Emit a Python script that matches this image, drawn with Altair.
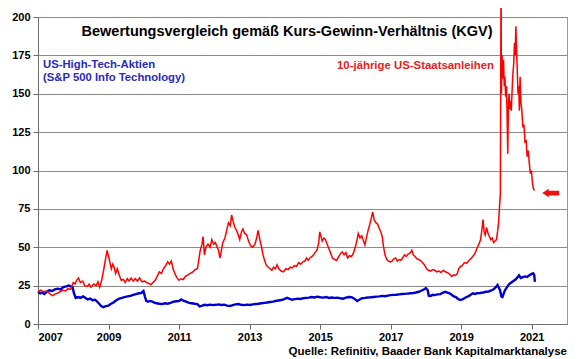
import altair as alt
import pandas as pd

# ---------------- data ----------------
red_years = [
    2007.00, 2007.08, 2007.15, 2007.25, 2007.35, 2007.42, 2007.48, 2007.55, 2007.62, 2007.70,
    2007.78, 2007.85, 2007.93, 2008.00, 2008.05, 2008.10, 2008.15, 2008.20, 2008.27, 2008.32,
    2008.40, 2008.45, 2008.50, 2008.58, 2008.65, 2008.70, 2008.75, 2008.80, 2008.86, 2008.92,
    2008.96, 2009.00, 2009.04, 2009.08, 2009.12, 2009.16, 2009.20, 2009.25, 2009.30, 2009.36,
    2009.42, 2009.47, 2009.53, 2009.58, 2009.64, 2009.70, 2009.76, 2009.82, 2009.88, 2009.95,
    2010.02, 2010.08, 2010.14, 2010.20, 2010.26, 2010.32, 2010.38, 2010.44, 2010.50, 2010.56,
    2010.62, 2010.68, 2010.73, 2010.78, 2010.83, 2010.88, 2010.94, 2011.00, 2011.06, 2011.12,
    2011.18, 2011.25, 2011.32, 2011.39, 2011.46, 2011.52, 2011.56, 2011.60, 2011.65, 2011.68,
    2011.72, 2011.76, 2011.82, 2011.88, 2011.93, 2011.98, 2012.03, 2012.08, 2012.12, 2012.16,
    2012.20, 2012.24, 2012.30, 2012.35, 2012.40, 2012.45, 2012.49, 2012.53, 2012.58, 2012.63,
    2012.68, 2012.72, 2012.77, 2012.81, 2012.86, 2012.92, 2012.97, 2013.03, 2013.09, 2013.15,
    2013.20, 2013.24, 2013.29, 2013.34, 2013.38, 2013.43, 2013.48, 2013.53, 2013.58, 2013.63,
    2013.68, 2013.73, 2013.78, 2013.83, 2013.89, 2013.96, 2014.03, 2014.09, 2014.15, 2014.21,
    2014.27, 2014.33, 2014.39, 2014.45, 2014.51, 2014.57, 2014.61, 2014.66, 2014.71, 2014.77,
    2014.81, 2014.87, 2014.91, 2014.96, 2014.99, 2015.06, 2015.11, 2015.15, 2015.20, 2015.25,
    2015.30, 2015.35, 2015.41, 2015.47, 2015.53, 2015.58, 2015.63, 2015.68, 2015.73, 2015.78,
    2015.83, 2015.89, 2015.94, 2015.99, 2016.04, 2016.08, 2016.13, 2016.18, 2016.23, 2016.27,
    2016.31, 2016.36, 2016.41, 2016.45, 2016.49, 2016.53, 2016.58, 2016.63, 2016.68, 2016.72,
    2016.76, 2016.80, 2016.84, 2016.89, 2016.94, 2016.99, 2017.04, 2017.09, 2017.14, 2017.19,
    2017.24, 2017.29, 2017.34, 2017.39, 2017.44, 2017.49, 2017.54, 2017.60, 2017.64, 2017.69,
    2017.74, 2017.79, 2017.84, 2017.90, 2017.96, 2018.02, 2018.07, 2018.13, 2018.19, 2018.25,
    2018.31, 2018.37, 2018.43, 2018.49, 2018.55, 2018.61, 2018.67, 2018.73, 2018.79, 2018.84,
    2018.89, 2018.93, 2018.98, 2019.03, 2019.09, 2019.15, 2019.21, 2019.27, 2019.33, 2019.39,
    2019.45, 2019.50, 2019.55, 2019.59, 2019.62, 2019.65, 2019.68, 2019.72, 2019.76, 2019.80,
    2019.84, 2019.88, 2019.92, 2019.96, 2020.00, 2020.03, 2020.06, 2020.08, 2020.11, 2020.13,
    2020.14, 2020.16, 2020.18, 2020.20, 2020.22, 2020.24, 2020.26, 2020.28, 2020.30, 2020.32,
    2020.34, 2020.36, 2020.38, 2020.40, 2020.42, 2020.44, 2020.46, 2020.49, 2020.51, 2020.53,
    2020.55, 2020.57, 2020.59, 2020.61, 2020.63, 2020.65, 2020.67, 2020.69, 2020.72, 2020.75,
    2020.78, 2020.81, 2020.84, 2020.87, 2020.90, 2020.93, 2020.96, 2020.99, 2021.02, 2021.05,
    2021.08,
]
red_vals = [
    21, 22, 21, 21.5, 19.5, 18.5, 19.5, 20, 21, 22,
    21.5, 23, 22.5, 27, 26, 28.5, 30, 27, 28, 25,
    24.5, 26, 24, 26, 25, 27.5, 24, 28, 35, 43,
    48, 44, 40, 36, 39, 37, 33, 36, 32, 28.5,
    29, 27, 29.5, 28, 30, 28, 29.5, 28, 30, 27.5,
    28, 27, 26.5, 25.5, 27, 28.5, 31, 34, 33, 36,
    38, 40.5, 39, 41, 36, 33, 30, 28.5, 29.5, 29,
    31, 32, 33, 34, 35.5, 36, 42, 48, 52, 57,
    45, 50, 52, 50, 55, 52, 53, 50, 48, 43,
    48, 53, 56, 61, 66, 64, 71, 67, 63, 61,
    58, 55, 60, 62, 59, 58, 54, 51, 50, 52,
    56, 61, 55, 50, 45, 41, 38, 37, 36, 35,
    37, 36, 38.5, 36, 34.5, 34, 36, 35.5, 37, 36.5,
    38, 37.5, 40, 39, 40.5, 41, 43, 41.5, 43, 44,
    45, 47, 48, 53, 60, 54, 56, 55, 52, 49,
    46, 43, 42, 41.5, 44, 46, 47, 45, 46.5, 43,
    44.5, 44, 46, 49.5, 54, 59, 56, 57.5, 54, 51.5,
    56, 61, 65, 69, 73, 68, 66, 65, 62, 60,
    57, 50, 45, 42, 41, 40.5, 41, 42.5, 43, 41,
    42, 41.5, 43, 45, 44, 45.5, 46, 48, 45, 44,
    42.5, 42, 41.5, 40, 38.5, 36, 35, 34.5, 35.5, 35,
    34, 34.5, 33.5, 35, 34, 33.5, 32.5, 31, 32, 31.5,
    33, 36, 37.5, 38, 40, 39.5, 41, 42.5, 44, 46,
    49.5, 52, 55, 62, 68, 60, 58, 63, 59, 57,
    55, 56, 53, 54, 55, 60, 66, 74, 85, 230,
    150, 175, 160, 172, 155, 161, 148, 155, 139, 111,
    145, 150, 140, 145, 139, 150, 161, 170, 183, 175,
    194, 178, 165, 150, 155, 139, 161, 145, 139, 128,
    130, 118, 120, 109, 113, 105, 98, 100, 92, 88,
    87,
]

blue_years = [
    2007.00, 2007.06, 2007.12, 2007.18, 2007.25, 2007.32, 2007.40, 2007.48, 2007.56, 2007.64,
    2007.72, 2007.80, 2007.87, 2007.93, 2007.98, 2008.02, 2008.07, 2008.14, 2008.20, 2008.28,
    2008.35, 2008.41, 2008.48, 2008.55, 2008.62, 2008.68, 2008.74, 2008.80, 2008.85, 2008.92,
    2009.00, 2009.06, 2009.14, 2009.22, 2009.30, 2009.38, 2009.45, 2009.54, 2009.62, 2009.70,
    2009.78, 2009.86, 2009.93, 2009.99, 2010.03, 2010.07, 2010.12, 2010.18, 2010.24, 2010.30,
    2010.36, 2010.44, 2010.52, 2010.60, 2010.68, 2010.76, 2010.84, 2010.92, 2011.00, 2011.06,
    2011.12, 2011.20, 2011.28, 2011.36, 2011.44, 2011.52, 2011.58, 2011.64, 2011.72, 2011.80,
    2011.88, 2011.96, 2012.04, 2012.12, 2012.20, 2012.28, 2012.36, 2012.44, 2012.52, 2012.60,
    2012.68, 2012.76, 2012.84, 2012.92, 2013.01, 2013.09, 2013.17, 2013.25, 2013.34, 2013.42,
    2013.50, 2013.58, 2013.66, 2013.74, 2013.82, 2013.90, 2013.98, 2014.06, 2014.12, 2014.20,
    2014.28, 2014.36, 2014.44, 2014.52, 2014.60, 2014.68, 2014.76, 2014.84, 2014.92, 2015.00,
    2015.09, 2015.17, 2015.25, 2015.33, 2015.41, 2015.49, 2015.57, 2015.65, 2015.73, 2015.81,
    2015.89, 2015.97, 2016.05, 2016.11, 2016.19, 2016.27, 2016.35, 2016.43, 2016.52, 2016.60,
    2016.68, 2016.76, 2016.84, 2016.92, 2017.00, 2017.08, 2017.16, 2017.24, 2017.32, 2017.40,
    2017.48, 2017.56, 2017.64, 2017.72, 2017.80, 2017.88, 2017.94, 2018.00, 2018.05, 2018.08,
    2018.13, 2018.19, 2018.25, 2018.33, 2018.41, 2018.49, 2018.55, 2018.61, 2018.67, 2018.73,
    2018.79, 2018.85, 2018.91, 2018.97, 2019.03, 2019.09, 2019.15, 2019.21, 2019.27, 2019.33,
    2019.39, 2019.45, 2019.53, 2019.62, 2019.70, 2019.78, 2019.86, 2019.92, 2019.98, 2020.03,
    2020.06, 2020.10, 2020.14, 2020.17, 2020.20, 2020.24, 2020.30, 2020.36, 2020.42, 2020.48,
    2020.54, 2020.60, 2020.64, 2020.69, 2020.75, 2020.81, 2020.87, 2020.93, 2020.99, 2021.04,
    2021.07, 2021.09,
]
blue_vals = [
    21, 20, 20.5, 19.5, 21, 22, 21.5, 22.5, 23, 22.5,
    24, 24.5, 25, 24.5, 24, 20, 17, 17.5, 17, 18,
    17, 16, 16.5, 15.5, 15.8, 14.5, 13, 11.5, 11, 11.7,
    12, 13, 14, 15.5, 16.5, 17, 17.5, 18, 18.3, 19,
    19.5, 20, 20.2, 21.5, 18, 15, 14.5, 15, 14.5, 14,
    13.5, 13.2, 13, 13.5, 13.2, 13.8, 14.5, 14.8, 15, 16,
    15.2, 14.5, 13.8, 13.5, 13.2, 13, 11.5, 11.8, 12.5, 12.2,
    12.6, 12.3, 12.5, 12.8, 12.4, 12.6, 12, 11.7, 12.3, 12.8,
    13, 12.5, 12.3, 12.6, 12.4, 12.8, 13, 13.2, 13.5, 13.8,
    14, 14.3, 14.6, 15, 15.3, 15.6, 16.2, 17, 16.5, 15.8,
    16.2, 16.5, 16.3, 16.8, 17, 17.2, 17.6, 17.3, 17.8, 17.4,
    17.2, 17.6, 17, 17.3, 17, 17.2, 16.8, 16.5, 17.2, 17.6,
    17.4, 16.5, 15, 15.8, 16.8, 17, 17.3, 17.4, 17.6, 17.8,
    18, 18.3, 18.1, 18.5, 18.8, 19, 19.1, 19.3, 19.5, 19.6,
    19.8, 20, 20.2, 20.5, 21, 21.8, 22.5, 23.4, 22, 18.5,
    18.3, 19, 18.8, 19.3, 19.5, 20.5, 21, 20.5, 20, 19,
    18, 17.5, 16.3, 15.6, 16, 16.8, 17.6, 18.2, 19, 20,
    19.6, 20, 20.2, 20.5, 21, 21.2, 22, 22.6, 24, 25.4,
    24, 22, 18, 17.6, 19.5, 22, 24, 26, 27, 28,
    29, 30.5, 31.7, 30, 30.5, 31, 30.7, 31.7, 32.5, 33,
    32, 27.5,
]

x_ticks = [2007, 2009, 2011, 2013, 2015, 2017, 2019, 2021]
y_ticks = [0, 25, 50, 75, 100, 125, 150, 175, 200]

title_text = "Bewertungsvergleich gemäß Kurs-Gewinn-Verhältnis (KGV)"
blue_label_1 = "US-High-Tech-Aktien"
blue_label_2 = "(S&P 500 Info Technology)"
red_label = "10-jährige US-Staatsanleihen"
source_text = "Quelle: Refinitiv, Baader Bank Kapitalmarktanalyse"
arrow_year = [2021.54]
arrow_val = [85.3]

FONT = "Liberation Sans"
RED = "#ff0000"
BLUE = "#0000cc"

red_df = pd.DataFrame({"year": red_years, "kgv": red_vals})
blue_df = pd.DataFrame({"year": blue_years, "kgv": blue_vals})
arrow_df = pd.DataFrame({"year": arrow_year, "kgv": arrow_val})

x_enc = alt.X(
    "year:Q",
    scale=alt.Scale(domain=[2007, 2022], nice=False, zero=False),
    axis=alt.Axis(values=x_ticks, format="d", grid=False, title=None,
                  labelPadding=2, labelOverlap=False),
)
y_enc = alt.Y(
    "kgv:Q",
    scale=alt.Scale(domain=[0, 200], nice=False),
    axis=alt.Axis(values=y_ticks, grid=True, title=None, labelPadding=3,
                  labelOverlap=False, tickCount=9),
)

blue_line = alt.Chart(blue_df).mark_line(color=BLUE, strokeWidth=2.4, clip=False).encode(
    x=x_enc, y=y_enc)
red_line = alt.Chart(red_df).mark_line(color=RED, strokeWidth=1.5, clip=False).encode(
    x=x_enc, y=y_enc)


def text_layer(txt, x, y, size, color, align):
    return alt.Chart(pd.DataFrame({"t": [txt]})).mark_text(
        font=FONT, fontSize=size, fontWeight="bold", color=color,
        align=align, baseline="alphabetic").encode(
        text="t:N", x=alt.value(x), y=alt.value(y))


title = text_layer(title_text, 249, 19, 14.5, "#000000", "center")
blue_txt1 = text_layer(blue_label_1, 5, 51, 11.3, "#2a2ab8", "left")
blue_txt2 = text_layer(blue_label_2, 5, 63.5, 11.3, "#2a2ab8", "left")
red_txt = text_layer(red_label, 299, 52, 11.4, "#e8211c", "left")
source = text_layer(source_text, 529, 338, 11.5, "#000000", "right")

arrow_path = "M -1 0 L -0.25 -0.5 L -0.25 -0.28 L 1 -0.28 L 1 0.28 L -0.25 0.28 L -0.25 0.5 Z"
arrow = alt.Chart(arrow_df).mark_point(
    shape=arrow_path, filled=True, color="#ee1111", opacity=1, size=289, strokeWidth=0,
    clip=False).encode(x=x_enc, y=y_enc)

chart = alt.layer(blue_line, red_line, arrow, title, blue_txt1, blue_txt2, red_txt, source).properties(
    width=529, height=307,
    autosize=alt.AutoSizeParams(type="none"),
    padding={"left": 30, "top": 9, "right": 5, "bottom": 35},
    background="#ffffff",
).configure_axis(
    labelFont=FONT, labelFontSize=11, labelFontWeight="bold", labelColor="#000000",
    domainColor="#6e6e6e", tickColor="#6e6e6e", tickSize=5,
    gridColor="#8c8c8c", gridWidth=1,
).configure_view(stroke="#9a9a9a", strokeWidth=1)

chart.save("out.html", embed_options={"renderer": "svg", "actions": False})
